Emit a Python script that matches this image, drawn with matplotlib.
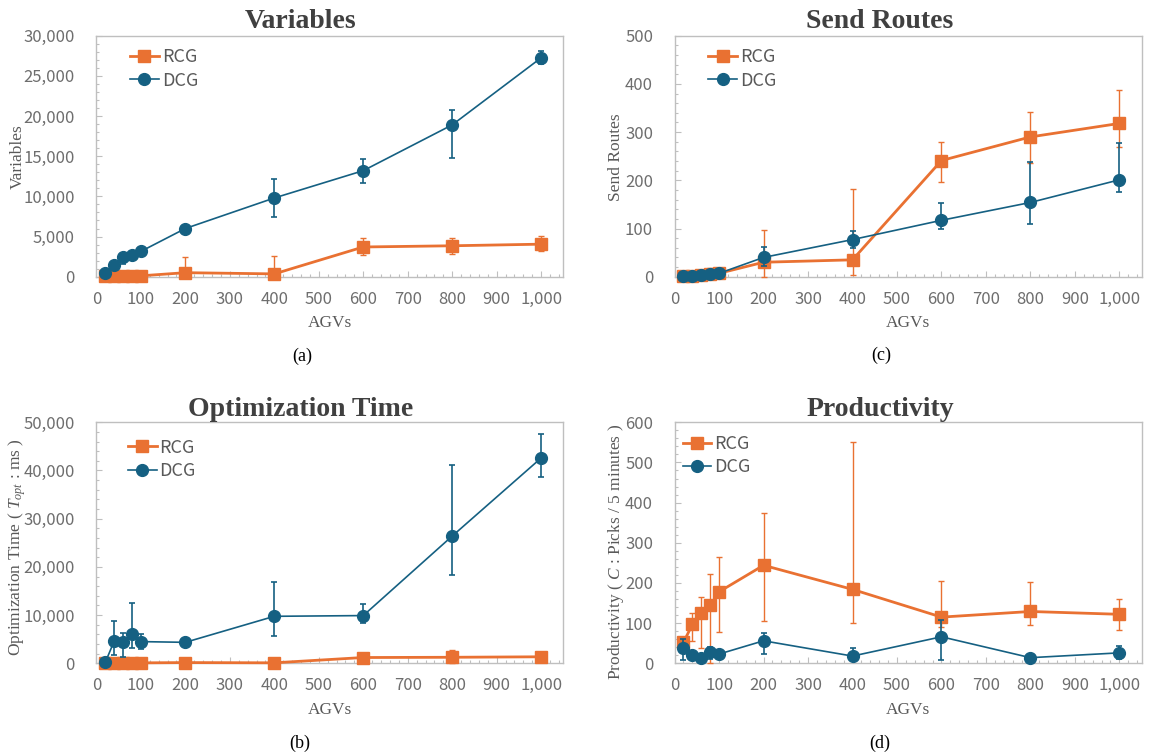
import matplotlib
matplotlib.use("Agg")
import matplotlib.pyplot as plt
from matplotlib.ticker import FuncFormatter, MultipleLocator
from matplotlib.lines import Line2D
import numpy as np

# ---------------- data ----------------
agvs = [20, 40, 60, 80, 100, 200, 400, 600, 800, 1000]

var_rcg = [30, 50, 70, 90, 110, 500, 350, 3700, 3850, 4050]
var_rcg_lo = [0, 0, 0, 0, 0, 0, 0, 2650, 2800, 3150]
var_rcg_hi = [150, 200, 250, 300, 350, 2500, 2600, 4850, 4850, 5100]
var_dcg = [450, 1500, 2400, 2700, 3150, 6000, 9800, 13200, 18900, 27250]
var_dcg_lo = [350, 1350, 1600, 2550, 3000, 5850, 7450, 11650, 14750, 26450]
var_dcg_hi = [550, 1650, 2600, 2850, 3300, 6150, 12150, 14650, 20800, 28100]

sr_rcg = [1, 2, 3, 5, 7, 30, 35, 241, 290, 318]
sr_rcg_lo = [0, 0, 0, 0, 0, 0, 4, 196, 236, 269]
sr_rcg_hi = [5, 8, 12, 18, 14, 96, 181, 279, 341, 388]
sr_dcg = [1, 2, 3, 5, 7, 40, 77, 117, 154, 201]
sr_dcg_lo = [0, 0, 1, 2, 4, 22, 60, 100, 109, 176]
sr_dcg_hi = [3, 4, 6, 8, 10, 62, 94, 153, 237, 278]

ot_rcg = [50, 60, 70, 80, 90, 150, 100, 1200, 1250, 1350]
ot_rcg_lo = [0, 0, 0, 0, 0, 0, 0, 900, 0, 1000]
ot_rcg_hi = [200, 200, 250, 300, 300, 600, 500, 1600, 2700, 2000]
ot_dcg = [200, 4600, 4350, 6000, 4500, 4350, 9750, 9900, 26400, 42600]
ot_dcg_lo = [100, 1750, 1250, 3100, 3000, 4100, 5700, 8450, 18250, 38750]
ot_dcg_hi = [400, 8700, 6300, 12450, 6000, 4600, 16950, 12300, 41200, 47600]

pr_rcg = [52, 97, 124, 144, 178, 244, 184, 115, 129, 122]
pr_rcg_lo = [40, 56, 39, 0, 77, 106, 100, 90, 95, 83]
pr_rcg_hi = [64, 126, 165, 222, 265, 374, 550, 205, 203, 160]
pr_dcg = [39, 20, 13, 27, 23, 56, 18, 66, 14, 26]
pr_dcg_lo = [7, 12, 5, 10, 15, 23, 8, 7, 8, 10]
pr_dcg_hi = [60, 28, 20, 41, 30, 76, 39, 108, 20, 44]

titles = ["Variables", "Send Routes", "Optimization Time", "Productivity"]
ylabels = ["Variables", "Send Routes",
           r"Optimization Time ( $T_{opt}$ : ms )",
           r"Productivity ( $C$ : Picks / 5 minutes )"]
captions = ["(a)", "(c)", "(b)", "(d)"]
series_names = ["RCG", "DCG"]

# ---------------- style ----------------
ORANGE = "#E97132"
BLUE = "#156082"
TICK_C = "#6E6E6E"
TEXT_C = "#595959"
TITLE_C = "#404040"
SPINE_C = "#BFBFBF"

plt.rcParams["mathtext.fontset"] = "custom"
plt.rcParams["mathtext.rm"] = "Liberation Serif"
plt.rcParams["mathtext.it"] = "Liberation Serif:italic"
plt.rcParams["mathtext.bf"] = "Liberation Serif:bold"

SANS = ["Noto Sans CJK JP", "DejaVu Sans"]
SERIF = "Liberation Serif"

FW, FH = 1152, 756
fig = plt.figure(figsize=(FW / 100, FH / 100), dpi=100)

AW = 467 / FW
AH = 241 / FH
panels = [
    dict(pos=(96.4 / FW, 1 - 276.7 / FH, AW, AH), ymax=30000, ymaj=5000, ymin=1000,
         data=(var_rcg, var_rcg_lo, var_rcg_hi, var_dcg, var_dcg_lo, var_dcg_hi),
         title_xy=(301, 22), ylab_xy=(18, 157), cap_xy=(302, 356), xl_y=323, leg=(0.045, 1.0)),
    dict(pos=(674.6 / FW, 1 - 276.7 / FH, AW, AH), ymax=500, ymaj=100, ymin=20,
         data=(sr_rcg, sr_rcg_lo, sr_rcg_hi, sr_dcg, sr_dcg_lo, sr_dcg_hi),
         title_xy=(880, 22), ylab_xy=(616, 157), cap_xy=(881, 355), xl_y=323, leg=(0.045, 1.0)),
    dict(pos=(96.4 / FW, 1 - 663.3 / FH, AW, AH), ymax=50000, ymaj=10000, ymin=2000,
         data=(ot_rcg, ot_rcg_lo, ot_rcg_hi, ot_dcg, ot_dcg_lo, ot_dcg_hi),
         title_xy=(301, 409), ylab_xy=(17, 547), cap_xy=(300, 743), xl_y=710, leg=(0.04, 0.985)),
    dict(pos=(674.6 / FW, 1 - 663.3 / FH, AW, AH), ymax=600, ymaj=100, ymin=20,
         data=(pr_rcg, pr_rcg_lo, pr_rcg_hi, pr_dcg, pr_dcg_lo, pr_dcg_hi),
         title_xy=(880, 409), ylab_xy=(616, 552), cap_xy=(880, 743), xl_y=710, leg=(-0.01, 1.0)),
]

comma = FuncFormatter(lambda v, p: f"{int(round(v)):,}")

for i, pnl in enumerate(panels):
    ax = fig.add_axes(pnl["pos"])
    r, rlo, rhi, d, dlo, dhi = [np.array(a, dtype=float) for a in pnl["data"]]
    x = np.array(agvs, dtype=float)

    eb1 = ax.errorbar(x, r, yerr=[r - rlo, rhi - r], color=ORANGE, lw=2.0,
                      marker="s", ms=8.5, elinewidth=1.0, capsize=2.5, capthick=1.0,
                      zorder=3)
    eb2 = ax.errorbar(x, d, yerr=[d - dlo, dhi - d], color=BLUE, lw=1.2,
                      marker="o", ms=8.5, elinewidth=1.2, capsize=2.5, capthick=1.2,
                      zorder=4)
    for eb in (eb1, eb2):
        eb.lines[0].set_clip_on(False)
        for art in eb.lines[1]:
            art.set_clip_on(False)
        for art in eb.lines[2]:
            art.set_clip_on(False)

    ax.set_xlim(0, 1050)
    ax.set_ylim(0, pnl["ymax"])
    ax.xaxis.set_major_locator(MultipleLocator(100))
    ax.xaxis.set_minor_locator(MultipleLocator(20))
    ax.yaxis.set_major_locator(MultipleLocator(pnl["ymaj"]))
    ax.yaxis.set_minor_locator(MultipleLocator(pnl["ymin"]))
    ax.xaxis.set_major_formatter(comma)
    ax.yaxis.set_major_formatter(comma)
    ax.tick_params(which="major", direction="in", length=4, width=0.8, color=SPINE_C,
                   labelcolor=TICK_C, labelsize=12)
    ax.tick_params(which="minor", direction="in", length=2.5, width=0.8, color=SPINE_C)
    ax.tick_params(axis="x", which="major", pad=10)
    ax.tick_params(axis="y", which="major", pad=15.5)
    for lab in ax.get_xticklabels() + ax.get_yticklabels():
        lab.set_fontfamily(SANS)
    for s in ax.spines.values():
        s.set_color(SPINE_C)
        s.set_linewidth(1.0)

    handles = [Line2D([], [], color=ORANGE, lw=2.0, marker="s", ms=8.5),
               Line2D([], [], color=BLUE, lw=1.2, marker="o", ms=8.5)]
    ax.legend(handles, series_names, loc="upper left", bbox_to_anchor=pnl["leg"],
              frameon=False, prop={"family": SANS, "size": 13}, labelcolor=TEXT_C,
              handlelength=1.6, handletextpad=0.15, labelspacing=0.3,
              borderaxespad=0.3)

    tx, ty = pnl["title_xy"]
    fig.text(tx / FW, 1 - ty / FH, titles[i], ha="center", va="center",
             family=SERIF, weight="bold", size=20, color=TITLE_C)
    lx, ly = pnl["ylab_xy"]
    fig.text(lx / FW, 1 - ly / FH, ylabels[i], rotation=90,
             ha="center", va="center", family=SERIF, size=12.5, color=TEXT_C)
    x0, y0, w, h = pnl["pos"]
    fig.text(x0 + w / 2, 1 - pnl["xl_y"] / FH, "AGVs", ha="center", va="center",
             family=SERIF, size=12.5, color=TEXT_C)
    cx, cy = pnl["cap_xy"]
    fig.text(cx / FW, 1 - cy / FH, captions[i], ha="center", va="center",
             family=SERIF, size=13, color="black")

fig.savefig("out.png", dpi=100)
